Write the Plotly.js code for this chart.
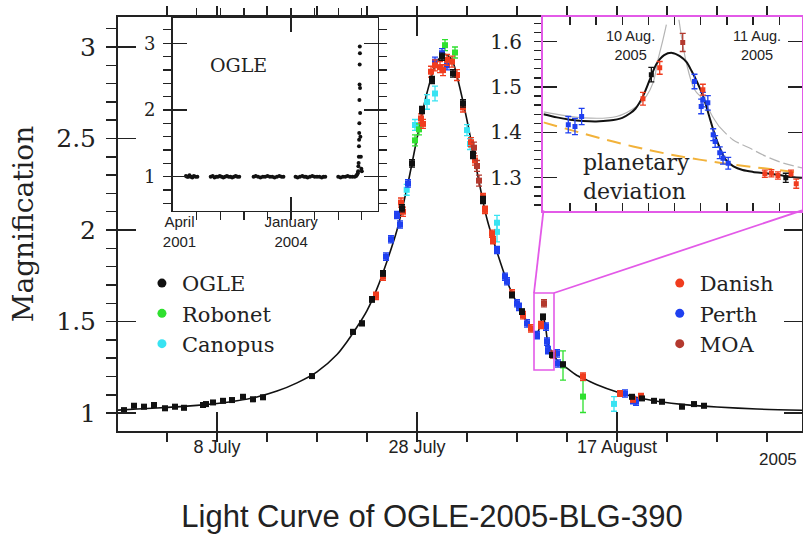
<!DOCTYPE html>
<html><head><meta charset="utf-8">
<script src="https://cdn.plot.ly/plotly-3.0.1.min.js"></script>
<style>html,body{margin:0;padding:0;background:#fff}#chart{width:803px;height:534px}</style>
</head><body><div id="chart"></div>
<script>
// ---------- main light curve (x = day of July 2005) ----------
const modelDay = [-1.9,0,2,4,6,8,10,12,14,16,18,20,21,22,23,24,25,26,27,28,29,30,30.8,31.5,32,33,34,35,36,37,38,39,39.8,40.1,40.4,40.6,40.8,41.1,41.5,42,43,44,45,46,48,50,52,55,58,62,66.5];
const modelMag = [1.016,1.022,1.028,1.034,1.042,1.052,1.067,1.088,1.12,1.165,1.225,1.32,1.39,1.47,1.56,1.68,1.83,2.0,2.23,2.5,2.75,2.92,2.96,2.93,2.84,2.60,2.32,2.06,1.88,1.72,1.60,1.50,1.44,1.445,1.50,1.52,1.49,1.38,1.33,1.29,1.245,1.205,1.18,1.155,1.115,1.085,1.065,1.045,1.033,1.022,1.015];

const ogleDay = [-1.3,-0.3,0.7,1.7,2.8,3.8,4.7,6.6,6.9,7.6,8.6,9.5,10.6,11.6,12.6,17.5,21.6,22.5,23.5,24.6,26.5,27.5,28.5,29.5,30.5,31.6,32.6,33.6,34.6,37.5,38.5,40.6,41.5,42.6,49.5,50.5,51.7,52.5,54.5,55.7,56.7];
const ogleMag = [1.016,1.040,1.035,1.044,1.026,1.035,1.029,1.044,1.049,1.058,1.067,1.071,1.089,1.075,1.086,1.202,1.444,1.490,1.621,1.763,2.119,2.364,2.656,2.82,2.947,2.856,2.692,2.41,2.164,1.645,1.554,1.526,1.317,1.266,1.089,1.080,1.067,1.062,1.035,1.049,1.040];
const ogleErr = [0.01,0.01,0.01,0.01,0.01,0.01,0.01,0.01,0.01,0.01,0.01,0.01,0.01,0.01,0.01,0.01,0.012,0.012,0.015,0.015,0.02,0.02,0.02,0.02,0.02,0.02,0.02,0.02,0.02,0.015,0.015,0.015,0.012,0.012,0.01,0.01,0.01,0.01,0.01,0.01,0.01];

const danishDay = [23.9,24.6,26.4,26.6,28.4,28.6,29.4,29.8,30.3,30.6,31.0,31.5,32.0,32.6,33.4,33.8,34.6,34.8,35.5,35.6,37.5,38.6,39.4,40.4,44.6,48.3,49.6,50.4];
const danishMag = [1.64,1.745,2.15,2.10,2.61,2.58,2.865,2.90,2.89,2.874,2.93,2.92,2.847,2.67,2.48,2.38,2.18,2.11,1.98,1.945,1.654,1.535,1.463,1.481,1.199,1.107,1.075,1.093];
const danishErr = [0.02,0.02,0.025,0.025,0.025,0.025,0.03,0.03,0.03,0.03,0.03,0.03,0.03,0.025,0.025,0.025,0.02,0.02,0.02,0.02,0.02,0.02,0.02,0.02,0.02,0.015,0.015,0.015];

const perthDay = [24.9,25.4,26.0,26.3,27.1,29.8,30.5,31.0,36.0,36.8,37.0,38.0,38.2,39.0,40.0,40.9,41.0,41.1,42.0,42.1,48.8,49.6,49.9];
const perthMag = [1.855,1.95,2.082,2.03,2.255,2.92,2.966,2.90,1.891,1.745,1.72,1.60,1.58,1.49,1.426,1.472,1.39,1.344,1.326,1.271,1.107,1.071,1.062];
const perthErr = [0.02,0.02,0.02,0.02,0.02,0.025,0.025,0.025,0.02,0.02,0.02,0.02,0.02,0.02,0.02,0.02,0.02,0.02,0.02,0.02,0.02,0.02,0.02];

const robonetDay = [27.8,28.2,30.8,31.8,42.6,44.6];
const robonetMag = [2.49,2.55,3.01,2.97,1.26,1.09];
const robonetErr = [0.03,0.03,0.03,0.03,0.08,0.087];

const canopusDay = [26.97,27.8,29.0,29.8,33.0,33.3,36.0,36.0,47.7];
const canopusMag = [2.22,2.574,2.70,2.746,2.546,2.47,2.04,1.99,1.05];
const canopusErr = [0.03,0.03,0.04,0.04,0.03,0.03,0.04,0.055,0.04];

const moaDay = [33.7,34.0,34.2,40.7,41.6];
const moaMag = [2.45,2.35,2.27,1.60,1.32];
const moaErr = [0.03,0.03,0.03,0.02,0.02];

// ---------- inset 1: OGLE long-term (x = HJD - 2450000) ----------
const ogleLongHJD = [2108,2118,2128,2138,2150,2162,2175,2190,2205,
  2318,2335,2350,2365,2380,2395,2410,2425,2440,2455,2470,2485,2500,2515,2530,2545,2560,
  2682,2700,2720,2740,2760,2780,2800,2820,2840,2860,2880,2900,2920,2935,
  3038,3055,3075,3095,3110,3125,3140,3160,3180,3200,3220,3240,3260,3275,3290,
  3400,3420,3440,3460,3480,3500,3520,3540,3552,3560,
  3566,3569,3571,3573,3575,3576,3577,3578,3579,3580,3581,3582,3583,3584,3585,3586,3588,3592,3596,3600];
const ogleLongMag = [1.01,1.0,1.0,1.02,1.0,0.99,1.01,1.0,1.0,
  1.0,1.01,0.99,1.0,1.0,1.01,1.0,0.99,1.0,1.01,1.0,1.0,0.99,1.0,1.01,1.0,1.0,
  1.0,1.01,1.0,0.99,1.0,1.0,1.01,1.0,1.0,0.99,1.0,1.01,1.0,1.0,
  1.0,0.99,1.0,1.01,1.0,1.0,0.99,1.0,1.01,1.0,1.0,1.0,0.99,1.0,1.0,
  1.0,0.99,1.0,1.0,1.01,1.0,1.0,1.0,1.01,1.03,
  1.05,1.08,1.155,1.205,1.30,1.455,1.555,1.655,1.80,2.15,2.38,2.68,2.95,2.85,2.33,1.955,1.60,1.30,1.12,1.08];

// ---------- inset 2: planetary deviation (x = day of August 2005) ----------
const insetModelDay = [9.397,9.5,9.6,9.7,9.8,9.9,10.0,10.06,10.1,10.16,10.21,10.26,10.32,10.38,10.44,10.49,10.53,10.57,10.62,10.67,10.72,10.79,10.85,10.92,11.0,11.1,11.2,11.3,11.374];
const insetModelMag = [1.440,1.433,1.428,1.425,1.424,1.426,1.432,1.442,1.452,1.481,1.516,1.550,1.570,1.575,1.568,1.555,1.535,1.512,1.478,1.43,1.384,1.340,1.325,1.317,1.313,1.310,1.306,1.302,1.300];
const graySolid1Day = [9.397,9.70,9.956,10.108,10.184,10.235,10.273,10.311,10.337];
const graySolid1Mag = [1.445,1.432,1.435,1.457,1.48,1.509,1.56,1.604,1.637];
const graySolid2Day = [10.433,10.49,10.553,10.62,10.69,10.74];
const graySolid2Mag = [1.648,1.553,1.494,1.472,1.435,1.413];
const grayDashDay = [10.74,10.845,10.97,11.1,11.225,11.374];
const grayDashMag = [1.413,1.384,1.366,1.347,1.333,1.322];
const noPlanetDay = [9.397,10.082,10.59,11.374];
const noPlanetMag = [1.422,1.369,1.340,1.311];

const perth2Day = [9.587,9.638,9.689,10.552,10.603,10.616,10.654,10.695,10.71,10.745,10.77,10.81];
const perth2Mag = [1.417,1.413,1.435,1.512,1.457,1.472,1.465,1.395,1.38,1.355,1.343,1.332];
const perth2Err = [0.018,0.018,0.018,0.016,0.016,0.016,0.016,0.013,0.013,0.013,0.013,0.013];
const danish2Day = [10.158,10.286,10.616,11.09,11.14,11.19,11.29,11.33];
const danish2Mag = [1.474,1.542,1.494,1.309,1.31,1.305,1.309,1.287];
const danish2Err = [0.014,0.014,0.012,0.008,0.008,0.008,0.008,0.01];
const ogle2Day = [10.222,11.25];
const ogle2Mag = [1.527,1.30];
const ogle2Err = [0.016,0.01];
const moa2Day = [10.462];
const moa2Mag = [1.598];
const moa2Err = [0.02];

// ---------- tick labels ----------
const mainXTickVals = [8, 28, 48];
const mainXTickText = ['8 July', '28 July', '17 August'];
const mainYTickVals = [1, 1.5, 2, 2.5, 3];
const mainYTickText = ['1', '1.5', '2', '2.5', '3'];
const longXTickVals = [2000, 3000];
const longXTickText = ['\u00a0\u00a0\u00a0April<br>\u00a0\u00a0\u00a02001', 'January<br>2004'];
const longYTickVals = [1, 2, 3];
const longYTickText = ['1', '2', '3'];
const devYTickVals = [1.3, 1.4, 1.5, 1.6];
const devYTickText = ['1.3', '1.4', '1.5', '1.6'];

const C = {ogle:'#111111', robonet:'#2fe02f', canopus:'#38e3f2', danish:'#f03c1e', perth:'#1f40f0', moa:'#b3392e',
           magenta:'#e35ae8', orange:'#f2b23a', gray:'#b4b4b4'};

function pts(x, y, err, color, xa, ya, size) {
  return {x:x, y:y, type:'scatter', mode:'markers', xaxis:xa, yaxis:ya, showlegend:false,
    marker:{symbol:'square', size:size, color:color},
    error_y:{type:'data', array:err, visible:true, color:color, thickness:1.3, width:3}};
}
function legendItem(name, color, leg) {
  return {x:[null], y:[null], type:'scatter', mode:'markers', name:name, legend:leg,
    marker:{symbol:'circle', size:9, color:color}};
}

const traces = [
  {x:modelDay, y:modelMag, type:'scatter', mode:'lines', line:{color:'#111', width:1.6, shape:'spline', smoothing:0.8}, showlegend:false, xaxis:'x', yaxis:'y'},
  pts(canopusDay, canopusMag, canopusErr, C.canopus, 'x', 'y', 6),
  pts(robonetDay, robonetMag, robonetErr, C.robonet, 'x', 'y', 6),
  pts(perthDay, perthMag, perthErr, C.perth, 'x', 'y', 6),
  pts(danishDay, danishMag, danishErr, C.danish, 'x', 'y', 6),
  pts(moaDay, moaMag, moaErr, C.moa, 'x', 'y', 6),
  pts(ogleDay, ogleMag, ogleErr, C.ogle, 'x', 'y', 6),
  // inset 1
  {x:ogleLongHJD, y:ogleLongMag, type:'scatter', mode:'markers', marker:{color:'#111', size:4}, showlegend:false, xaxis:'x2', yaxis:'y2'},
  // inset 2
  {x:noPlanetDay, y:noPlanetMag, type:'scatter', mode:'lines', line:{color:C.orange, width:2, dash:'14px,8px', shape:'spline'}, showlegend:false, xaxis:'x3', yaxis:'y3'},
  {x:graySolid1Day, y:graySolid1Mag, type:'scatter', mode:'lines', line:{color:C.gray, width:1.2, shape:'spline'}, showlegend:false, xaxis:'x3', yaxis:'y3'},
  {x:graySolid2Day, y:graySolid2Mag, type:'scatter', mode:'lines', line:{color:C.gray, width:1.2, shape:'spline'}, showlegend:false, xaxis:'x3', yaxis:'y3'},
  {x:grayDashDay, y:grayDashMag, type:'scatter', mode:'lines', line:{color:C.gray, width:1.2, dash:'11px,4px', shape:'spline'}, showlegend:false, xaxis:'x3', yaxis:'y3'},
  {x:insetModelDay, y:insetModelMag, type:'scatter', mode:'lines', line:{color:'#111', width:2, shape:'spline', smoothing:0.8}, showlegend:false, xaxis:'x3', yaxis:'y3'},
  pts(perth2Day, perth2Mag, perth2Err, C.perth, 'x3', 'y3', 5),
  pts(danish2Day, danish2Mag, danish2Err, C.danish, 'x3', 'y3', 5),
  pts(moa2Day, moa2Mag, moa2Err, C.moa, 'x3', 'y3', 5),
  pts(ogle2Day, ogle2Mag, ogle2Err, C.ogle, 'x3', 'y3', 5),
  // legends
  legendItem('OGLE', C.ogle, 'legend'),
  legendItem('Robonet', C.robonet, 'legend'),
  legendItem('Canopus', C.canopus, 'legend'),
  legendItem('Danish', C.danish, 'legend2'),
  legendItem('Perth', C.perth, 'legend2'),
  legendItem('MOA', C.moa, 'legend2')
];

const serif = 'DejaVu Serif, serif';
const sans = 'Liberation Sans, Arial, sans-serif';
const ink = '#222';
const baseAx = {showgrid:false, zeroline:false, showline:true, mirror:'ticks', ticks:'inside', tickcolor:ink, linecolor:ink};

// plot area: left 118, right 802, top 17, bottom 431 (pixels)
function px(xp) { return (xp - 118) / 684; }
function py(yp) { return (431 - yp) / 414; }
function note(text, xp, yp, font, anchor, align) {
  return {text:text, xref:'paper', yref:'paper', x:px(xp), y:py(yp), xanchor:anchor || 'center', yanchor:'middle', showarrow:false, font:font, align:align || 'center'};
}

const layout = {
  width:803, height:534,
  margin:{l:118, r:1, t:17, b:103},
  paper_bgcolor:'#fff', plot_bgcolor:'#fff',
  title:{text:'Light Curve of OGLE-2005-BLG-390', font:{family:sans, size:31, color:'#222'}, x:0.538, xanchor:'center', y:0.034, yanchor:'middle'},
  xaxis:Object.assign({}, baseAx, {domain:[0,1], range:[-1.9,66.5], tickmode:'array', tickvals:mainXTickVals, ticktext:mainXTickText,
    ticklen:19, tickwidth:1.5, linewidth:2, tickfont:{family:sans, size:18, color:ink}, ticklabelstandoff:-2,
    minor:{tickmode:'linear', tick0:3, dtick:5, ticklen:9, tickwidth:1.5, tickcolor:ink, showgrid:false}}),
  yaxis:Object.assign({}, baseAx, {domain:[0,1], range:[0.902,3.164], tickmode:'array', tickvals:mainYTickVals, ticktext:mainYTickText,
    ticklen:18, tickwidth:1.5, linewidth:2, tickfont:{family:serif, size:25, color:ink}, ticklabelstandoff:15,
    title:{text:'Magnification', font:{family:serif, size:28, color:ink}, standoff:14},
    minor:{tickmode:'linear', tick0:0, dtick:0.1, ticklen:10, tickwidth:1.5, tickcolor:ink, showgrid:false}}),
  xaxis2:Object.assign({}, baseAx, {domain:[0.0797,0.3797], anchor:'y2', range:[1994,3735], tickmode:'array', tickvals:longXTickVals, ticktext:longXTickText,
    ticklen:14, tickwidth:1.3, linewidth:1.5, tickfont:{family:sans, size:15, color:ink}, ticklabelstandoff:-3,
    minor:{tickmode:'linear', tick0:2000, dtick:200, ticklen:8, tickwidth:1.3, tickcolor:ink, showgrid:false}}),
  yaxis2:Object.assign({}, baseAx, {domain:[0.532,0.998], anchor:'x2', range:[0.49,3.38], tickmode:'array', tickvals:longYTickVals, ticktext:longYTickText,
    ticklen:14, tickwidth:1.3, linewidth:1.5, tickfont:{family:serif, size:18, color:ink}, ticklabelstandoff:12,
    minor:{tickmode:'linear', tick0:0, dtick:0.2, ticklen:8, tickwidth:1.3, tickcolor:ink, showgrid:false}}),
  xaxis3:Object.assign({}, baseAx, {domain:[0.622,1], anchor:'y3', range:[9.397,11.374], tickmode:'linear', tick0:9.6, dtick:0.2,
    showticklabels:false, ticklen:8, tickwidth:1.3, linewidth:2.5, linecolor:C.magenta}),
  yaxis3:Object.assign({}, baseAx, {domain:[0.5326,1], anchor:'x3', range:[1.228,1.654], tickmode:'array', tickvals:devYTickVals, ticktext:devYTickText,
    ticklen:14, tickwidth:1.3, linewidth:2.5, linecolor:C.magenta, tickfont:{family:serif, size:20, color:ink}, ticklabelstandoff:15,
    minor:{tickmode:'linear', tick0:1.2, dtick:0.02, ticklen:7, tickwidth:1.3, tickcolor:ink, showgrid:false}}),
  legend:{x:0.035, y:0.406, xanchor:'left', yanchor:'top', bgcolor:'rgba(0,0,0,0)', font:{family:serif, size:21, color:ink}, tracegroupgap:0},
  legend2:{x:0.792, y:0.406, xanchor:'left', yanchor:'top', bgcolor:'rgba(0,0,0,0)', font:{family:serif, size:21, color:ink}, tracegroupgap:0},
  shapes:[
    {type:'rect', xref:'x', yref:'y', x0:39.7, x1:41.7, y0:1.235, y1:1.656, line:{color:C.magenta, width:1.6}},
    {type:'line', xref:'x', yref:'y', x0:39.7, y0:1.656, x1:40.65, y1:2.107, line:{color:C.magenta, width:1.8}},
    {type:'line', xref:'x', yref:'y', x0:41.7, y0:1.656, x1:66.5, y1:2.107, line:{color:C.magenta, width:1.8}}
  ],
  annotations:[
    note('OGLE', 238, 65, {family:serif, size:19, color:ink}),
    note('planetary<br>deviation', 581, 177, {family:serif, size:22, color:ink}, 'left', 'left'),
    note('10 Aug.<br>2005', 630, 46, {family:sans, size:14.5, color:ink}),
    note('11 Aug.<br>2005', 757, 46, {family:sans, size:14.5, color:ink}),
    note('2005', 778, 459, {family:sans, size:17, color:ink})
  ]
};

Plotly.newPlot('chart', traces, layout, {staticPlot:true, displayModeBar:false});
</script>
</body></html>
